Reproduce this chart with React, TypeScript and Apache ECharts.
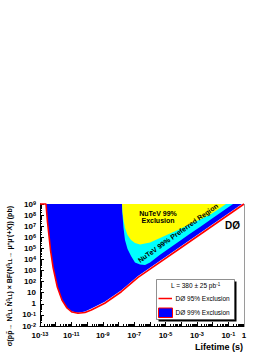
import React, { useEffect, useRef } from "react";
import * as echarts from "echarts";

const FONT = "Liberation Sans, Arial, Helvetica, sans-serif";

// Axis ranges
const lifetimeMin = 1e-13;
const lifetimeMax = 1;
const sigmaMin = 1e-2;
const sigmaMax = 1e9;

// DØ 95% exclusion contour (red line)
const d0Excl95Lifetime = [1e-13, 2.41e-13, 3.0e-13, 3.58e-13, 4.67e-13, 6.74e-13, 1.27e-12, 2.52e-12, 5.26e-12, 1.1e-11, 2.64e-11, 7.38e-11, 1.86e-10, 1.33e-9, 1.52e-8, 1.76e-7, 1e-4, 1e-2, 1];
const d0Excl95Sigma = [1e9, 1e9, 2.4e7, 2.5e6, 7.1e4, 2.1e3, 33, 2.2, 0.42, 0.18, 0.14, 0.166, 0.275, 1.12, 12.3, 245, 1.2e5, 1.1e7, 1e9];

// DØ 99% exclusion contour (blue filled region above it)
const d0Excl99Lifetime = [1e-13, 2.41e-13, 3.0e-13, 3.58e-13, 4.67e-13, 6.74e-13, 1.27e-12, 2.52e-12, 5.26e-12, 1.1e-11, 2.64e-11, 7.38e-11, 1.86e-10, 1.33e-9, 1.52e-8, 1.76e-7, 1e-4, 1e-2, 0.74, 1];
const d0Excl99Sigma = [1e9, 1e9, 2.4e7, 2.5e6, 7.1e4, 2.1e3, 33, 2.2, 0.44, 0.2, 0.155, 0.2, 0.37, 1.5, 16.6, 330, 1.6e5, 1.5e7, 1e9, 1e9];

// NuTeV 99% preferred region (cyan, filled above its lower contour)
const nutevPrefLifetime = [1.68e-8, 1.81e-8, 2.1e-8, 2.61e-8, 3.78e-8, 6.31e-8, 1.13e-7, 2.36e-7, 4.92e-7, 1.03e-6, 4.45e-6, 1.93e-5, 8.4e-5, 3.6e-4, 1.58e-3, 6.8e-3, 2.97e-2, 0.2];
const nutevPrefSigma = [1e9, 1.0e8, 6.9e6, 5.7e5, 8.7e4, 2.0e4, 5.3e3, 3.5e3, 3.2e3, 5.3e3, 2.7e4, 1.15e5, 4.8e5, 2.06e6, 8.6e6, 3.7e7, 1.54e8, 1e9];

// NuTeV 99% exclusion (yellow, filled above its lower contour)
const nutevExclLifetime = [1.68e-8, 1.81e-8, 2.1e-8, 2.61e-8, 3.78e-8, 6.31e-8, 1.13e-7, 2.36e-7, 1.03e-6, 4.45e-6, 1.93e-5, 8.4e-5, 3.6e-4, 1.58e-3, 6.8e-3, 2.2e-2, 7.1e-2];
const nutevExclSigma = [1e9, 1.9e8, 3.6e7, 6.9e6, 1.6e6, 5.7e5, 3.0e5, 2.2e5, 3.4e5, 8.6e5, 2.2e6, 5.6e6, 1.6e7, 4.0e7, 1.1e8, 3.2e8, 1e9];

const legendLabels = ["DØ 95% Exclusion", "DØ 99% Exclusion"];
const lumiText = "L = 380 ± 25 pb";
const lumiExp = "-1";
const xAxisTitle = "Lifetime (s)";
const nutevExclText = "NuTeV 99%\nExclusion";
const nutevPrefText = "NuTeV 99% Preferred Region";
const experimentText = "DØ";

const zip = (xs: number[], ys: number[]) => xs.map((x, i) => [x, ys[i]]);

const expOf = (v: number) => Math.round(Math.log10(v));

export default function App() {
  const ref = useRef<HTMLDivElement>(null);

  useEffect(() => {
    const chart = echarts.init(ref.current!, null, { renderer: "svg" });

    const labelRich = {
      b: { fontFamily: FONT, fontSize: 8, fontWeight: "bold", color: "#000", lineHeight: 8, padding: [3, 0, 0, 0], verticalAlign: "bottom" },
      u: { fontFamily: FONT, fontSize: 5.5, fontWeight: "bold", color: "#000", lineHeight: 6, verticalAlign: "top" },
    };

    const titleRich = {
      b: { fontFamily: FONT, fontSize: 7, fontWeight: "bold", color: "#000", lineHeight: 7, padding: [3, 0, 2, 0] },
      u: { fontFamily: FONT, fontSize: 4.5, fontWeight: "bold", color: "#000", lineHeight: 5, verticalAlign: "top" },
      d: { fontFamily: FONT, fontSize: 4.5, fontWeight: "bold", color: "#000", lineHeight: 5, verticalAlign: "bottom" },
    };

    const yTitle =
      "{b|σ(p}{b|p\u0304}{b|→ N}{u|0}{d|LL}{b| N\u0304}{u|0}{d|LL}{b|) × BF(N}{u|0}{d|LL}{b|→ μ}{u|+}{b|μ}{u|-}{b|(+X)) (pb)}";

    chart.setOption({
      animation: false,
      backgroundColor: "#fff",
      grid: { left: 40, right: 30, top: 204, bottom: 28, containLabel: false },
      xAxis: {
        type: "log",
        logBase: 10,
        min: lifetimeMin,
        max: lifetimeMax,
        interval: 1,
        axisLine: { show: true, lineStyle: { color: "#000", width: 1 } },
        axisTick: { show: true, inside: true, length: 4, interval: 0, lineStyle: { color: "#000" } },
        minorTick: { show: true, splitNumber: 9, length: 2, lineStyle: { color: "#000" } },
        splitLine: { show: false },
        minorSplitLine: { show: false },
        axisLabel: {
          interval: 0,
          hideOverlap: false,
          margin: 5,
          formatter: (v: number) => {
            const e = expOf(v);
            if (e === 0) return "{b|1}";
            if (e % 2 === 0) return "";
            return `{b|10}{u|${e}}`;
          },
          rich: labelRich,
        },
      },
      yAxis: {
        type: "log",
        logBase: 10,
        min: sigmaMin,
        max: sigmaMax,
        interval: 1,
        axisLine: { show: true, lineStyle: { color: "#000", width: 1 } },
        axisTick: { show: true, inside: true, length: 4, interval: 0, lineStyle: { color: "#000" } },
        minorTick: { show: true, splitNumber: 9, length: 2, lineStyle: { color: "#000" } },
        splitLine: { show: false },
        minorSplitLine: { show: false },
        axisLabel: {
          interval: 0,
          hideOverlap: false,
          margin: 4,
          formatter: (v: number) => {
            const e = expOf(v);
            if (e === 0) return "{b|1}";
            if (e === 1) return "{b|10}";
            return `{b|10}{u|${e}}`;
          },
          rich: labelRich,
        },
      },
      series: [
        {
          type: "line",
          name: legendLabels[1],
          data: zip(d0Excl99Lifetime, d0Excl99Sigma),
          symbol: "none",
          lineStyle: { width: 0 },
          areaStyle: { color: "#0000ff", opacity: 1, origin: "end" },
          z: 2,
          silent: true,
        },
        {
          type: "line",
          name: "NuTeV preferred",
          data: zip(nutevPrefLifetime, nutevPrefSigma),
          symbol: "none",
          lineStyle: { width: 0 },
          areaStyle: { color: "#00ffff", opacity: 1, origin: "end" },
          z: 3,
          silent: true,
        },
        {
          type: "line",
          name: "NuTeV exclusion",
          data: zip(nutevExclLifetime, nutevExclSigma),
          symbol: "none",
          lineStyle: { width: 0 },
          areaStyle: { color: "#ffff00", opacity: 1, origin: "end" },
          z: 4,
          silent: true,
        },
        {
          type: "line",
          name: legendLabels[0],
          data: zip(d0Excl95Lifetime, d0Excl95Sigma),
          symbol: "none",
          lineStyle: { color: "#ff0000", width: 1.6 },
          clip: false,
          z: 5,
          silent: true,
        },
      ],
      graphic: [
        { type: "line", z: 100, shape: { x1: 244.5, y1: 204, x2: 244.5, y2: 326 }, style: { stroke: "#9a9a9a", lineWidth: 1 } },
        {
          type: "text", z: 100, x: 158, y: 217,
          style: { text: nutevExclText, fill: "#000", fontFamily: FONT, fontSize: 7, fontWeight: "bold", lineHeight: 7.5, align: "center", verticalAlign: "middle", textAlign: "center", textVerticalAlign: "middle" },
        },
        {
          type: "text", z: 100, x: 178, y: 233, rotation: 0.62,
          style: { text: nutevPrefText, fill: "#000", fontFamily: FONT, fontSize: 7, fontWeight: "bold", align: "center", verticalAlign: "middle", textAlign: "center", textVerticalAlign: "middle" },
        },
        {
          type: "text", z: 100, x: 232.5, y: 225.5,
          style: { text: experimentText, fill: "#000", fontFamily: FONT, fontSize: 10, fontWeight: "bold", align: "center", verticalAlign: "middle", textAlign: "center", textVerticalAlign: "middle" },
        },
        // legend
        { type: "rect", z: 100, shape: { x: 158.5, y: 281.5, width: 78, height: 40 }, style: { fill: "#000" } },
        { type: "rect", z: 101, shape: { x: 156.5, y: 279.5, width: 78, height: 40 }, style: { fill: "#fff", stroke: "#444", lineWidth: 0.6 } },
        {
          type: "text", z: 102, x: 195.5, y: 285.5,
          style: {
            text: `{t|${lumiText}}{s|${lumiExp}}`,
            rich: {
              t: { fontFamily: FONT, fontSize: 6.5, color: "#000", lineHeight: 7, padding: [2, 0, 0, 0], verticalAlign: "bottom" },
              s: { fontFamily: FONT, fontSize: 4.5, color: "#000", lineHeight: 5, verticalAlign: "top" },
            },
            align: "center", verticalAlign: "middle", textAlign: "center", textVerticalAlign: "middle",
          },
        },
        { type: "line", z: 102, shape: { x1: 158.5, y1: 298.5, x2: 172, y2: 298.5 }, style: { stroke: "#ff0000", lineWidth: 1.5 } },
        {
          type: "text", z: 102, x: 175.5, y: 298.5,
          style: { text: legendLabels[0], fill: "#000", fontFamily: FONT, fontSize: 6.5, align: "left", verticalAlign: "middle", textAlign: "left", textVerticalAlign: "middle" },
        },
        { type: "rect", z: 102, shape: { x: 158.5, y: 308, width: 14, height: 9.5 }, style: { fill: "#0000ff", stroke: "#ff0000", lineWidth: 1 } },
        {
          type: "text", z: 102, x: 175.5, y: 312.5,
          style: { text: legendLabels[1], fill: "#000", fontFamily: FONT, fontSize: 6.5, align: "left", verticalAlign: "middle", textAlign: "left", textVerticalAlign: "middle" },
        },
        // axis titles
        {
          type: "text", z: 100, x: 243, y: 346.5,
          style: { text: xAxisTitle, fill: "#000", fontFamily: FONT, fontSize: 9, fontWeight: "bold", align: "right", verticalAlign: "middle", textAlign: "right", textVerticalAlign: "middle" },
        },
        {
          type: "text", z: 100, x: 9, y: 206, rotation: Math.PI / 2,
          style: { text: yTitle, rich: titleRich, align: "right", verticalAlign: "middle", textAlign: "right", textVerticalAlign: "middle" },
        },
      ],
    });

    return () => chart.dispose();
  }, []);

  return (
    <div
      ref={ref}
      style={{ position: "fixed", left: 0, top: 0, width: 274, height: 354, background: "#fff" }}
    />
  );
}
